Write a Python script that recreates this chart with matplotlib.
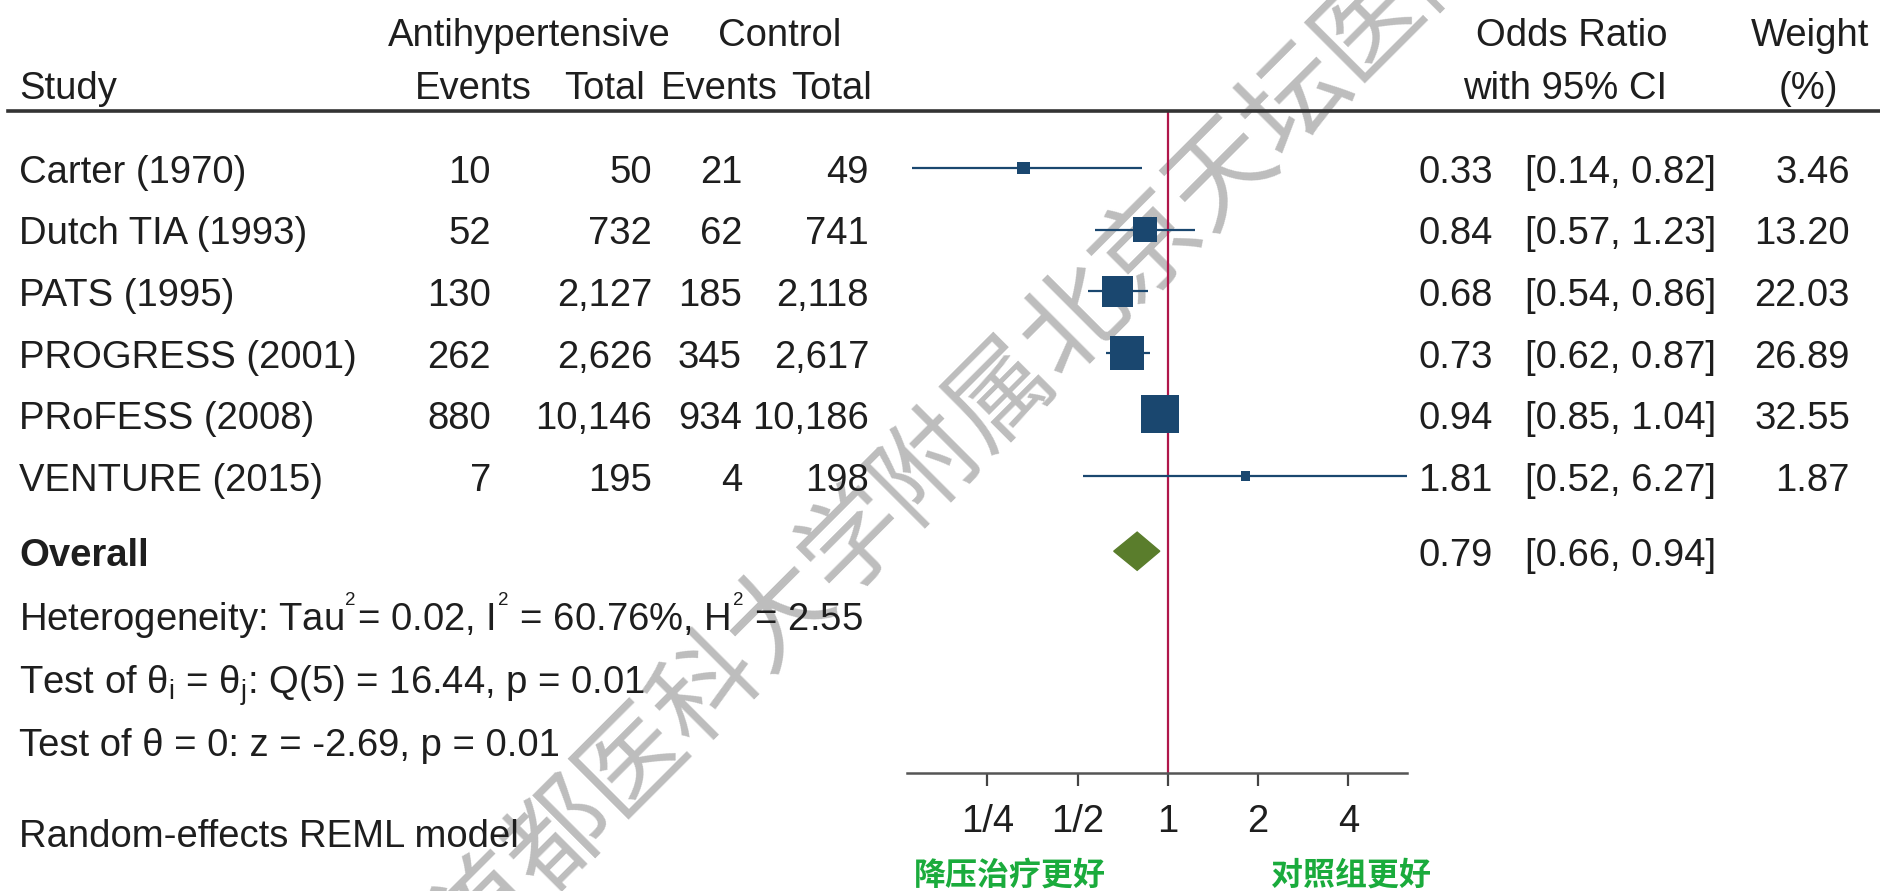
import matplotlib
matplotlib.use("Agg")
import matplotlib.pyplot as plt
from matplotlib.transforms import blended_transform_factory
from matplotlib.patches import Polygon
from matplotlib.ticker import NullLocator
import numpy as np

plt.rcParams['font.family'] = ['Liberation Sans', 'DejaVu Sans']
plt.rcParams['mathtext.fontset'] = 'custom'
plt.rcParams['mathtext.rm'] = 'Liberation Sans'
plt.rcParams['mathtext.it'] = 'Liberation Sans:italic'
plt.rcParams['mathtext.bf'] = 'Liberation Sans:bold'

# data
studies = ["Carter (1970)", "Dutch TIA (1993)", "PATS (1995)",
           "PROGRESS (2001)", "PRoFESS (2008)", "VENTURE (2015)"]
treat_events = [10, 52, 130, 262, 880, 7]
treat_total = [50, 732, 2127, 2626, 10146, 195]
ctrl_events = [21, 62, 185, 345, 934, 4]
ctrl_total = [49, 741, 2118, 2617, 10186, 198]
odds = [0.33, 0.84, 0.68, 0.73, 0.94, 1.81]
ci_low = [0.14, 0.57, 0.54, 0.62, 0.85, 0.52]
ci_high = [0.82, 1.23, 0.86, 0.87, 1.04, 6.27]
weights = [3.46, 13.20, 22.03, 26.89, 32.55, 1.87]
overall_or = 0.79
overall_low = 0.66
overall_high = 0.94
stats_lines = [r"Heterogeneity: Tau$^{{}^{2}}$= 0.02, I$^{{}^{2}}$ = 60.76%, H$^{{}^{2}}$ = 2.55",
               "Test of \u03b8${}_{\\mathrm{i}}$ = \u03b8${}_{\\mathrm{j}}$: Q(5) = 16.44, p = 0.01",
               "Test of \u03b8 = 0: z = -2.69, p = 0.01"]
model_note = "Random-effects REML model"
tick_vals = [0.25, 0.5, 1, 2, 4]
tick_labels = ["1/4", "1/2", "1", "2", "4"]
favours = ["降压治疗更好", "对照组更好"]
watermark = "首都医科大学附属北京天坛医院"

# style
W, H = 1880, 891
fs = 27.5
dy = 0.24  # baseline offset below the row centre
txt = "#1e1e1e"
navy = "#1a476f"
maroon = "#b0174a"
olive = "#5a7d2c"
green = "#1aab3c"

def fx(px):
    return px / W

fig = plt.figure(figsize=(W / 100, H / 100), dpi=100)
fig.set_facecolor("white")
ax = fig.add_axes([fx(907), 1 - 773 / H, fx(1407) - fx(907), (773 - 111) / H])
ax.patch.set_alpha(0)
ax.set_xscale("log", base=2)
ax.set_xlim(0.135, 6.27)
ax.set_ylim(9.82, -0.925)
for s in ["top", "left", "right"]:
    ax.spines[s].set_visible(False)
ax.spines["bottom"].set_color("#555555")
ax.spines["bottom"].set_linewidth(1.8)
ax.set_yticks([])
ax.set_xticks(tick_vals, tick_labels)
ax.xaxis.set_minor_locator(NullLocator())
ax.tick_params(axis="x", direction="out", length=9, width=1.6, colors="#444444",
               labelcolor=txt, labelsize=fs, pad=13)

rows = np.arange(len(studies))
ax.axvline(1, color=maroon, lw=1.6, zorder=1)
ax.hlines(rows, ci_low, ci_high, color=navy, lw=1.6, zorder=2)
ax.scatter(odds, rows, s=23 * np.array(weights), marker="s", color=navy,
           linewidths=0, zorder=3)

y_overall = 6.22
diamond = Polygon([(overall_low, y_overall), (overall_or, y_overall - 0.31),
                   (overall_high, y_overall), (overall_or, y_overall + 0.31)],
                  closed=True, facecolor=olive, edgecolor=olive, zorder=3)
ax.add_patch(diamond)

tr = blended_transform_factory(fig.transFigure, ax.transData)

def put(xpx, y, s, ha, **kw):
    ax.text(fx(xpx), y + dy, s, transform=tr, fontsize=fs, color=txt,
            va="baseline", ha=ha, **kw)

# header
ax.plot([0.004, 1.0], [-0.925, -0.925], transform=tr, color="#333333", lw=2.6,
        clip_on=False)
hy1, hy2 = -2.22, -1.36
put(19, hy2, "Study", "left")
put(529, hy1, "Antihypertensive", "center")
put(780, hy1, "Control", "center")
put(532, hy2, "Events", "right")
put(645, hy2, "Total", "right")
put(778, hy2, "Events", "right")
put(872, hy2, "Total", "right")
put(1572, hy1, "Odds Ratio", "center")
put(1565, hy2, "with 95% CI", "center")
put(1810, hy1, "Weight", "center")
put(1808, hy2, "(%)", "center")

# study rows
for i in range(len(studies)):
    put(19, i, studies[i], "left")
    put(491, i, f"{treat_events[i]:,}", "right")
    put(652, i, f"{treat_total[i]:,}", "right")
    put(742, i, f"{ctrl_events[i]:,}", "right")
    put(869, i, f"{ctrl_total[i]:,}", "right")
    put(1418, i, f"{odds[i]:.2f}", "left")
    put(1525, i, f"[{ci_low[i]:.2f}, {ci_high[i]:.2f}]", "left")
    put(1850, i, f"{weights[i]:.2f}", "right")

put(19, y_overall, "Overall", "left", fontweight="bold")
put(1418, y_overall, f"{overall_or:.2f}", "left")
put(1525, y_overall, f"[{overall_low:.2f}, {overall_high:.2f}]", "left")

for y, line in zip([7.27, 8.3, 9.3], stats_lines):
    put(19, y, line, "left")
put(19, 10.78, model_note, "left")

# favours labels under the axis
for xc, lab in zip([1010, 1351], favours):
    ax.text(fx(xc), 11.48, lab, transform=tr, ha="center", va="center",
            fontsize=23, fontweight="bold", color=green,
            family=["Noto Sans CJK SC", "DejaVu Sans"])

# diagonal watermark, drawn behind the chart
fig.text(fx(965), 1 - 430 / H, watermark, rotation=45, rotation_mode="anchor",
         ha="center", va="center", fontsize=75, color="#bdbdbd",
         family=["Noto Sans CJK SC", "DejaVu Sans"], zorder=-1)

fig.savefig("out.png", dpi=100)
